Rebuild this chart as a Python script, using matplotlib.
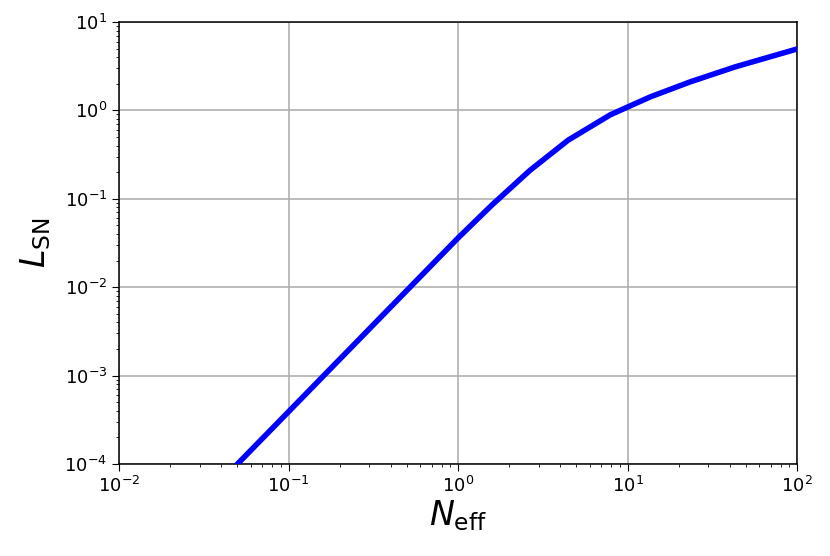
import matplotlib
matplotlib.use('Agg')
import matplotlib.pyplot as plt
import numpy as np

# values (log-log curve)
n_eff = [0.01, 0.05, 0.1, 1.0, 1.585, 2.66, 4.46, 7.9, 13.6, 23.4, 43.0, 100.0]
l_sn = [4.2e-6, 1e-4, 3.9e-4, 0.036, 0.085, 0.21, 0.46, 0.89, 1.42, 2.1, 3.1, 4.95]

fig = plt.figure(figsize=(8.3, 5.56), dpi=100)
ax = fig.add_axes([119 / 830, 1 - 464 / 556, (797 - 119) / 830, (464 - 22) / 556])

ax.plot(n_eff, l_sn, color='blue', linewidth=4, zorder=3)

ax.set_xscale('log')
ax.set_yscale('log')
ax.set_xlim(1e-2, 1e2)
ax.set_ylim(1e-4, 1e1)

ax.grid(True, which='major', color='#b0b0b0', linewidth=1.2)
ax.tick_params(labelsize=13)
ax.tick_params(which='major', length=5)
for s in ax.spines.values():
    s.set_linewidth(1.1)

ax.set_xlabel(r'$N_{\rm eff}$', fontsize=24, labelpad=2)
ax.set_ylabel(r'$L_{\rm SN}$', fontsize=24, labelpad=8)

fig.savefig('out.png', dpi=100)
